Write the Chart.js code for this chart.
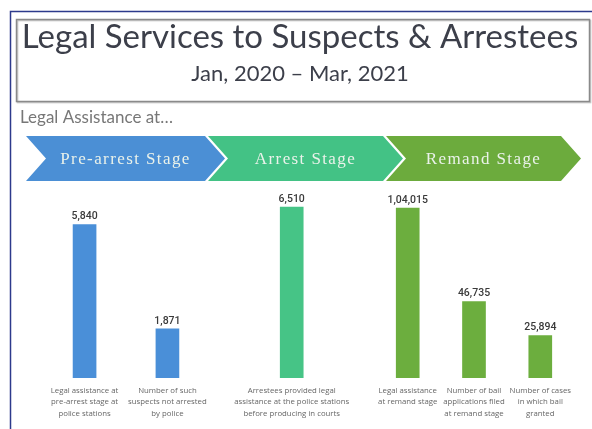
<!DOCTYPE html>
<html>
<head>
<meta charset="utf-8">
<title>Legal Services to Suspects &amp; Arrestees</title>
<script src="https://cdn.jsdelivr.net/npm/chart.js@4.4.1/dist/chart.umd.min.js"></script>
<style>
  html, body { margin: 0; padding: 0; background: #ffffff; overflow: hidden; }
  #wrap { position: relative; width: 592px; height: 429px; }
</style>
</head>
<body>
<div id="wrap"><canvas id="legal-services-chart"></canvas></div>
<script>
// Legal services figures, Jan 2020 - Mar 2021
const stageNames = ["Pre-arrest Stage", "Arrest Stage", "Remand Stage"];

const preArrestValues = [5840, 1871];
const arrestValues = [6510];
const remandValues = [104015, 46735, 25894];

const barCaptions = [
  ["Legal assistance at", "pre-arrest stage at", "police stations"],
  ["Number of such", "suspects not arrested", "by police"],
  ["Arrestees provided legal", "assistance at the police stations", "before producing in courts"],
  ["Legal assistance", "at remand stage"],
  ["Number of bail", "applications filed", "at remand stage"],
  ["Number of cases", "in which bail", "granted"]
];

const titleText = "Legal Services to Suspects & Arrestees";
const periodText = "Jan, 2020 \u2013 Mar, 2021";
const introText = "Legal Assistance at\u2026";

// where each bar sits on the 0-35 slot axis
const barSlots = [4.5, 9.5, 17, 24, 28, 32];

const stageColors = ["#4b8fd5", "#43c285", "#6cab3d"];
const barColors = ["#4a8fd8", "#46c486", "#6cae3e"];

document.addEventListener("DOMContentLoaded", function () {
  const canvas = document.getElementById("legal-services-chart");

  function indianFormat(n) {
    const s = String(n);
    if (s.length <= 3) return s;
    const rest = s.slice(0, -3).replace(/\B(?=(\d{2})+(?!\d))/g, ",");
    return rest + "," + s.slice(-3);
  }

  function slotPoints(values, offset) {
    return values.map((v, i) => ({ x: barSlots[offset + i], y: v }));
  }

  // frame, title box, intro line and the three stage arrows
  const backdropPlugin = {
    id: "backdrop",
    beforeDraw(chart) {
      const ctx = chart.ctx;
      ctx.save();
      ctx.fillStyle = "#ffffff";
      ctx.fillRect(0, 0, chart.width, chart.height);

      ctx.strokeStyle = "#2d3a8c";
      ctx.lineWidth = 1.5;
      ctx.beginPath();
      ctx.moveTo(10.5, chart.height);
      ctx.lineTo(10.5, 11.5);
      ctx.lineTo(chart.width, 11.5);
      ctx.stroke();

      ctx.shadowColor = "rgba(0,0,0,0.25)";
      ctx.shadowOffsetX = 1;
      ctx.shadowOffsetY = 1;
      ctx.shadowBlur = 1;
      ctx.strokeStyle = "#8a8a8a";
      ctx.lineWidth = 1.5;
      ctx.strokeRect(16.5, 19.5, 573, 82);
      ctx.shadowColor = "transparent";

      ctx.fillStyle = "#777777";
      ctx.font = "17px Lato";
      ctx.textBaseline = "middle";
      ctx.textAlign = "left";
      ctx.fillText(introText, 20, 118);

      const top = 136, bottom = 181, mid = (top + bottom) / 2, depth = 20;
      const arrows = [
        { left: 26, right: 205 },
        { left: 208, right: 383 },
        { left: 386, right: 561 }
      ];

      arrows.forEach((a, i) => {
        ctx.fillStyle = stageColors[i];
        ctx.beginPath();
        ctx.moveTo(a.left, top);
        ctx.lineTo(a.right, top);
        ctx.lineTo(a.right + depth, mid);
        ctx.lineTo(a.right, bottom);
        ctx.lineTo(a.left, bottom);
        ctx.lineTo(a.left + depth, mid);
        ctx.closePath();
        ctx.fill();

        ctx.fillStyle = "#eaf2ea";
        ctx.font = "17px 'Liberation Serif'";
        ctx.letterSpacing = "1.4px";
        ctx.textAlign = "center";
        ctx.fillText(stageNames[i], (a.left + a.right + depth) / 2, mid + 1);
        ctx.letterSpacing = "0px";
      });

      ctx.restore();
    }
  };

  const valueLabelPlugin = {
    id: "valueLabels",
    afterDatasetsDraw(chart) {
      const ctx = chart.ctx;
      ctx.save();
      ctx.fillStyle = "#3a3a3a";
      ctx.font = "500 10.5px Roboto";
      ctx.textAlign = "center";
      ctx.textBaseline = "middle";
      chart.data.datasets.forEach((ds, i) => {
        chart.getDatasetMeta(i).data.forEach((bar, j) => {
          ctx.fillText(indianFormat(ds.data[j].y), bar.x, bar.y - 8);
        });
      });
      ctx.restore();
    }
  };

  new Chart(canvas, {
    type: "bar",
    data: {
      datasets: [
        {
          label: stageNames[0],
          data: slotPoints(preArrestValues, 0),
          backgroundColor: barColors[0],
          yAxisID: "y"
        },
        {
          label: stageNames[1],
          data: slotPoints(arrestValues, 2),
          backgroundColor: barColors[1],
          yAxisID: "y"
        },
        {
          label: stageNames[2],
          data: slotPoints(remandValues, 3),
          backgroundColor: barColors[2],
          yAxisID: "y2"
        }
      ]
    },
    options: {
      responsive: true,
      maintainAspectRatio: false,
      animation: false,
      grouped: false,
      barThickness: 23,
      layout: {
        padding: { left: 10, right: 2, top: 0, bottom: 0 }
      },
      scales: {
        x: {
          type: "linear",
          min: 0,
          max: 35,
          offset: false,
          grid: { display: false, drawTicks: false },
          border: { display: false },
          afterBuildTicks: axis => {
            axis.ticks = barSlots.map(v => ({ value: v }));
          },
          afterFit: scale => {
            scale.height = 51;
          },
          ticks: {
            autoSkip: false,
            maxRotation: 0,
            minRotation: 0,
            padding: 7,
            color: "#666666",
            font: { family: "'Open Sans'", size: 7.8, lineHeight: 1.45 },
            callback: (value, index) => barCaptions[index]
          }
        },
        y: {
          display: false,
          min: 0,
          max: 7200
        },
        y2: {
          display: false,
          min: 0,
          max: 115700
        }
      },
      plugins: {
        legend: { display: false },
        tooltip: { enabled: false },
        title: {
          display: true,
          text: titleText,
          color: "#3c3f4a",
          font: { family: "Lato", size: 33, weight: "normal", lineHeight: 1.2 },
          padding: { top: 18, bottom: 0 }
        },
        subtitle: {
          display: true,
          text: periodText,
          color: "#3c3f4a",
          font: { family: "Lato", size: 22, weight: "normal", lineHeight: 1.2 },
          padding: { top: 3, bottom: 102 }
        }
      }
    },
    plugins: [backdropPlugin, valueLabelPlugin]
  });
});
</script>
</body>
</html>
